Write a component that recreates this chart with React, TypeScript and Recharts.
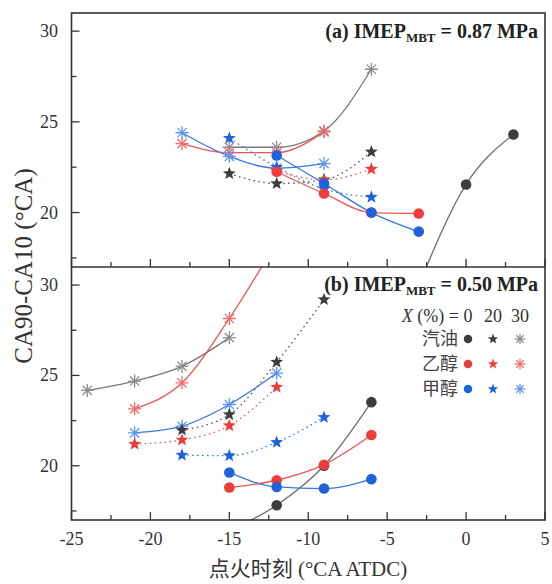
import React from "react";
import { LineChart, Line, XAxis, YAxis } from "recharts";

type Pt = [number, number];

const xTicks = [-25, -22.5, -20, -17.5, -15, -12.5, -10, -7.5, -5, -2.5, 0, 2.5, 5];
const yTicks = [17.5, 20, 22.5, 25, 27.5, 30];
const fuels = ["汽油", "乙醇", "甲醇"];
const ratios = ["0", "20", "30"];

// (a) IMEP_MBT = 0.87 MPa
const aGas0: Pt[] = [[-3, 16.0], [0, 21.55], [3, 24.3]];
const aGas20: Pt[] = [[-15, 22.15], [-12, 21.6], [-9, 21.8], [-6, 23.35]];
const aGas30: Pt[] = [[-15, 23.6], [-12, 23.6], [-9, 24.5], [-6, 27.9]];
const aEth0: Pt[] = [[-12, 22.25], [-9, 21.05], [-6, 20.0], [-3, 19.95]];
const aEth20: Pt[] = [[-12, 22.3], [-9, 21.8], [-6, 22.4]];
const aEth30: Pt[] = [[-18, 23.8], [-15, 23.3], [-12, 23.3], [-9, 24.45]];
const aMeth0: Pt[] = [[-12, 23.15], [-9, 21.6], [-6, 20.0], [-3, 18.95]];
const aMeth20: Pt[] = [[-15, 24.1], [-12, 22.5], [-9, 21.3], [-6, 20.85]];
const aMeth30: Pt[] = [[-18, 24.4], [-15, 23.1], [-12, 22.45], [-9, 22.7]];

// (b) IMEP_MBT = 0.50 MPa
const bGas0: Pt[] = [[-15, 16.4], [-12, 17.82], [-9, 20.0], [-6, 23.52]];
const bGas20: Pt[] = [[-18, 21.98], [-15, 22.83], [-12, 25.74], [-9, 29.2]];
const bGas30: Pt[] = [[-24, 24.17], [-21, 24.69], [-18, 25.5], [-15, 27.09]];
const bEth0: Pt[] = [[-15, 18.8], [-12, 19.2], [-9, 20.06], [-6, 21.7]];
const bEth20: Pt[] = [[-21, 21.2], [-18, 21.43], [-15, 22.22], [-12, 24.35]];
const bEth30: Pt[] = [[-21, 23.15], [-18, 24.59], [-15, 28.15], [-12, 32.4]];
const bMeth0: Pt[] = [[-15, 19.63], [-12, 18.83], [-9, 18.74], [-6, 19.26]];
const bMeth20: Pt[] = [[-18, 20.59], [-15, 20.56], [-12, 21.3], [-9, 22.68]];
const bMeth30: Pt[] = [[-21, 21.82], [-18, 22.19], [-15, 23.39], [-12, 25.13]];

const SERIF = '"Liberation Serif", "Times New Roman", serif';
const CJK = '"Noto Sans CJK SC", sans-serif';
const INK = "#333";

type Kind = "circle" | "star" | "ast";
interface Style { kind: Kind; mark: string; line: string; dotted?: boolean }

const styles: Record<string, Style> = {
  gas0: { kind: "circle", mark: "#3d3d3d", line: "#6e6e6e" },
  gas20: { kind: "star", mark: "#3d3d3d", line: "#555", dotted: true },
  gas30: { kind: "ast", mark: "#8c8c8c", line: "#7a7a7a" },
  eth0: { kind: "circle", mark: "#ee3b3b", line: "#f05555" },
  eth20: { kind: "star", mark: "#ee3b3b", line: "#f05555", dotted: true },
  eth30: { kind: "ast", mark: "#f26a6a", line: "#f05555" },
  meth0: { kind: "circle", mark: "#1e63dc", line: "#3a78e0" },
  meth20: { kind: "star", mark: "#1e63dc", line: "#3a78e0", dotted: true },
  meth30: { kind: "ast", mark: "#5b95f0", line: "#3a78e0" },
};

const seriesA = [
  ["gas30", aGas30], ["eth30", aEth30], ["meth30", aMeth30],
  ["gas20", aGas20], ["eth20", aEth20], ["meth20", aMeth20],
  ["gas0", aGas0], ["eth0", aEth0], ["meth0", aMeth0],
] as [string, Pt[]][];

const seriesB = [
  ["gas30", bGas30], ["eth30", bEth30], ["meth30", bMeth30],
  ["gas20", bGas20], ["eth20", bEth20], ["meth20", bMeth20],
  ["gas0", bGas0], ["eth0", bEth0], ["meth0", bMeth0],
] as [string, Pt[]][];

function Marker({ cx, cy, kind, color, s = 1 }: { cx?: number; cy?: number; kind: Kind; color: string; s?: number }) {
  if (cx == null || cy == null || isNaN(cx) || isNaN(cy)) return null;
  if (kind === "circle") return <circle cx={cx} cy={cy} r={5.3 * s} fill={color} />;
  if (kind === "star") {
    const r = 6.8 * s;
    const pts: string[] = [];
    for (let i = 0; i < 10; i++) {
      const a = (-90 + i * 36) * (Math.PI / 180);
      const rr = i % 2 ? r * 0.42 : r;
      pts.push(`${cx + rr * Math.cos(a)},${cy + rr * Math.sin(a)}`);
    }
    return <polygon points={pts.join(" ")} fill={color} />;
  }
  const r = 6.5 * s;
  return (
    <g stroke={color} strokeWidth={1.3}>
      {[0, 45, 90, 135].map((d) => {
        const a = (d * Math.PI) / 180;
        return (
          <line key={d} x1={cx - r * Math.cos(a)} y1={cy - r * Math.sin(a)} x2={cx + r * Math.cos(a)} y2={cy + r * Math.sin(a)} />
        );
      })}
    </g>
  );
}

function XTick(props: any) {
  const { x, y, payload, labels } = props;
  const v = payload.value as number;
  const major = Math.abs(v % 5) < 1e-6;
  return (
    <g>
      <line x1={x} x2={x} y1={y} y2={y - (major ? 8 : 5)} stroke={INK} strokeWidth={1.3} />
      {labels && major && (
        <text x={x} y={y + 25} textAnchor="middle" fontFamily={SERIF} fontSize={18} fill={INK}>
          {v}
        </text>
      )}
    </g>
  );
}

function YTick(props: any) {
  const { x, y, payload } = props;
  const v = payload.value as number;
  const major = Math.abs(v % 5) < 1e-6;
  return (
    <g>
      <line x1={x} x2={x + (major ? 8 : 5)} y1={y} y2={y} stroke={INK} strokeWidth={1.3} />
      {major && (
        <text x={x - 13.5} y={y + 6} textAnchor="end" fontFamily={SERIF} fontSize={18} fill={INK}>
          {v}
        </text>
      )}
    </g>
  );
}

function Panel({ series, height, top, axisH, labels }: { series: [string, Pt[]][]; height: number; top: number; axisH: number; labels: boolean }) {
  return (
    <div style={{ position: "absolute", left: 0, top: 0 }}>
      <LineChart width={552} height={height} margin={{ top, right: 7, bottom: 0, left: 0 }}>
        <XAxis
          type="number"
          dataKey="x"
          domain={[-25, 5]}
          ticks={xTicks}
          interval={0}
          allowDataOverflow
          height={axisH}
          axisLine={false}
          tickLine={false}
          tickSize={0}
          tickMargin={0}
          tick={(p: any) => <XTick {...p} labels={labels} />}
        />
        <YAxis
          type="number"
          domain={[17, 31]}
          ticks={yTicks}
          interval={0}
          allowDataOverflow
          width={71.5}
          axisLine={false}
          tickLine={false}
          tickSize={0}
          tickMargin={0}
          tick={(p: any) => <YTick {...p} />}
        />
        {series.map(([key, pts]) => {
          const st = styles[key];
          return (
            <Line
              key={key}
              data={pts.map(([x, y]) => ({ x, y }))}
              dataKey="y"
              type="monotone"
              stroke={st.line}
              strokeWidth={1.3}
              strokeDasharray={st.dotted ? "1.6 3.4" : undefined}
              isAnimationActive={false}
              dot={(p: any) => <Marker key={`${key}-${p.index}`} cx={p.cx} cy={p.cy} kind={st.kind} color={st.mark} />}
              activeDot={false}
            />
          );
        })}
      </LineChart>
    </div>
  );
}

function Title({ y, label, value }: { y: number; label: string; value: string }) {
  return (
    <text x={538} y={y} textAnchor="end" fontFamily={SERIF} fontSize={20} fontWeight="bold" fill="#222">
      <tspan>{`${label} IMEP`}</tspan>
      <tspan fontSize={13} dy={4}>MBT</tspan>
      <tspan dy={-4}>{` = ${value} MPa`}</tspan>
    </text>
  );
}

const legendCols = [468, 493, 520];
const legendRows = [339, 364, 389];
const legendKinds: Kind[] = ["circle", "star", "ast"];
const fuelKeys = ["gas", "eth", "meth"];

export default function App() {
  return (
    <div style={{ position: "absolute", left: 0, top: 0, width: 552, height: 584, background: "#fff" }}>
      <Panel series={seriesA} height={268} top={13} axisH={1} labels={false} />
      <Panel series={seriesB} height={584} top={267} axisH={64} labels={true} />
      <svg width={552} height={584} style={{ position: "absolute", left: 0, top: 0, pointerEvents: "none" }}>
        <rect x={71.5} y={13} width={473.5} height={507} fill="none" stroke={INK} strokeWidth={1.6} />
        <line x1={71.5} x2={545} y1={267} y2={267} stroke={INK} strokeWidth={1.6} />
        <Title y={38} label="(a)" value="0.87" />
        <Title y={291} label="(b)" value="0.50" />
        <text x={459} y={322} textAnchor="end" fontFamily={SERIF} fontSize={18} fill={INK}>
          <tspan fontStyle="italic">X</tspan>
          <tspan> (%) =</tspan>
        </text>
        {ratios.map((r, i) => (
          <text key={r} x={legendCols[i]} y={322} textAnchor="middle" fontFamily={SERIF} fontSize={18} fill={INK}>
            {r}
          </text>
        ))}
        {fuels.map((f, j) => (
          <g key={f}>
            <text x={458} y={legendRows[j] + 6} textAnchor="end" fontFamily={CJK} fontSize={18} fill="#444">
              {f}
            </text>
            {legendKinds.map((k, i) => {
              const st = styles[`${fuelKeys[j]}${ratios[i]}`];
              return <Marker key={k} cx={legendCols[i]} cy={legendRows[j]} kind={k} color={st.mark} s={0.8} />;
            })}
          </g>
        ))}
        <text
          x={23}
          y={266}
          transform="rotate(-90 23 266)"
          textAnchor="middle"
          dominantBaseline="central"
          fontFamily={SERIF}
          fontSize={25}
          fill={INK}
        >
          CA90-CA10 (°CA)
        </text>
        <text x={308} y={576} textAnchor="middle" fontSize={21} fill={INK}>
          <tspan fontFamily={CJK}>点火时刻</tspan>
          <tspan fontFamily={SERIF}> (°CA ATDC)</tspan>
        </text>
      </svg>
    </div>
  );
}
